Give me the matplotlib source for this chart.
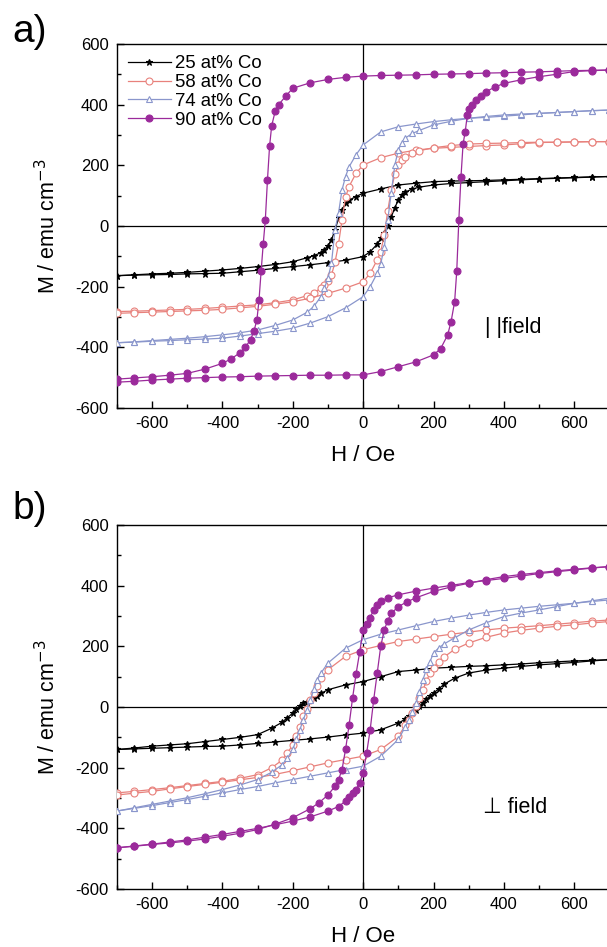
import matplotlib
matplotlib.use("Agg")
import matplotlib.pyplot as plt
from matplotlib.ticker import MultipleLocator

plt.rcParams['font.family'] = ['Liberation Sans', 'DejaVu Sans']
plt.rcParams['axes.unicode_minus'] = False

labels = ["25 at% Co", "58 at% Co", "74 at% Co", "90 at% Co"]

# ---------------- panel a (|| field) ----------------
# descending-branch field grids (ascending branch uses the negated grid)
Ha_90 = [700, 650, 600, 550, 500, 450, 400, 350, 300, 250, 200, 150, 100, 50, 0, -50, -100,
         -150, -200, -220, -240, -250, -260, -266, -272, -278, -284, -290, -296, -302, -310,
         -320, -335, -350, -375, -400, -450, -500, -550, -600, -650, -700]
Ma_90_dn = [514, 513, 512, 510, 508, 507, 505, 504, 502, 501, 500, 498, 497, 496, 494, 490,
            483, 472, 454, 428, 400, 378, 330, 262, 150, 20, -60, -150, -245, -310, -345,
            -375, -400, -418, -438, -453, -472, -486, -492, -497, -501, -505]
Ma_90_up = [-515, -512, -508, -505, -502, -500, -498, -497, -495, -494, -493, -492, -492, -491,
            -491, -480, -464, -448, -425, -405, -360, -315, -250, -150, 20, 160, 270, 310, 365,
            385, 400, 415, 430, 443, 458, 470, 482, 492, 500, 509, 512, 514]

Ha_lo = [700, 650, 600, 550, 500, 450, 400, 350, 300, 250, 200, 150, 100, 50, 0, -20, -40,
         -50, -60, -70, -80, -90, -100, -110, -120, -140, -160, -200, -250, -300, -350, -400,
         -450, -500, -550, -600, -650, -700]
Ma_74_dn = [382, 380, 377, 374, 371, 366, 362, 358, 355, 350, 344, 336, 327, 310, 267, 235,
            195, 163, 119, 42, -13, -123, -172, -205, -233, -265, -285, -310, -328, -343,
            -352, -359, -365, -370, -374, -378, -382, -385]
Ma_74_up = [-385, -383, -380, -378, -375, -373, -370, -363, -355, -347, -337, -320, -299, -270,
            -233, -200, -156, -125, -70, 20, 110, 200, 251, 275, 290, 305, 315, 333, 345, 355,
            361, 366, 369, 371, 374, 377, 380, 382]
Ma_58_dn = [278, 278, 277, 276, 275, 271, 267, 265, 262, 259, 256, 250, 240, 225, 201, 174,
            130, 95, 20, -60, -120, -162, -180, -195, -205, -220, -230, -244, -253, -260, -264,
            -268, -272, -275, -277, -279, -281, -282]
Ma_58_up = [-288, -286, -284, -282, -280, -278, -275, -270, -265, -258, -250, -238, -222, -205,
            -184, -156, -112, -85, -30, 50, 120, 170, 200, 218, 228, 240, 248, 258, 265, 270,
            272, 273, 275, 276, 276, 277, 278, 278]
Ma_25_dn = [163, 162, 160, 158, 156, 154, 152, 150, 149, 148, 146, 141, 135, 122, 108, 97, 85,
            75, 53, 25, -13, -46, -65, -79, -88, -98, -105, -118, -127, -134, -140, -145, -149,
            -153, -156, -158, -161, -164]
Ma_25_up = [-164, -162, -161, -160, -158, -157, -156, -151, -146, -140, -134, -128, -121, -113,
            -101, -85, -60, -41, -22, 0, 30, 60, 86, 102, 112, 122, 128, 135, 140, 143, 146,
            149, 152, 155, 157, 159, 161, 163]

# ---------------- panel b (perpendicular field) ----------------
Hb_90 = [700, 650, 600, 550, 500, 450, 400, 350, 300, 250, 200, 150, 100, 70, 50, 40, 30, 20,
         10, 0, -10, -20, -30, -40, -50, -60, -70, -80, -100, -125, -150, -200, -250, -300,
         -350, -400, -450, -500, -550, -600, -650, -700]
Mb_90_dn = [463, 458, 452, 446, 440, 432, 424, 417, 410, 401, 392, 382, 370, 360, 348, 335,
            320, 295, 275, 254, 180, 110, 30, -60, -140, -206, -240, -261, -290, -315, -335,
            -365, -386, -404, -416, -426, -435, -442, -448, -453, -459, -464]
Mb_90_up = [-464, -458, -452, -445, -438, -429, -420, -410, -400, -388, -376, -362, -343, -328,
            -310, -298, -285, -272, -250, -217, -151, -75, 24, 112, 200, 254, 285, 309, 331,
            347, 360, 381, 396, 408, 420, 430, 437, 443, 449, 454, 459, 463]

Hb_lo = [700, 650, 600, 550, 500, 450, 400, 350, 300, 250, 200, 150, 100, 50, 0, -50, -100,
         -120, -130, -140, -150, -160, -170, -180, -190, -200, -215, -230, -260, -300, -350,
         -400, -450, -500, -550, -600, -650, -700]
Mb_74_dn = [353, 348, 342, 337, 332, 326, 320, 312, 303, 293, 282, 268, 254, 240, 222, 194,
            145, 112, 90, 58, 24, -10, -42, -75, -107, -140, -168, -190, -215, -239, -257,
            -272, -286, -299, -310, -321, -332, -343]
Mb_74_up = [-343, -334, -325, -315, -305, -294, -283, -272, -262, -250, -239, -228, -217, -206,
            -195, -162, -107, -65, -42, -15, 13, 50, 90, 125, 150, 178, 195, 208, 228, 254,
            278, 298, 310, 320, 331, 342, 350, 359]
Mb_58_dn = [287, 283, 278, 273, 268, 264, 260, 254, 247, 240, 232, 224, 216, 203, 189, 167,
            123, 95, 68, 45, 24, -5, -31, -65, -97, -125, -151, -175, -200, -223, -235, -245,
            -252, -259, -266, -272, -278, -283]
Mb_58_up = [-290, -284, -278, -270, -262, -255, -248, -240, -232, -222, -210, -197, -184, -173,
            -162, -140, -97, -60, -42, -20, 2, 30, 57, 85, 112, 130, 150, 165, 190, 211, 230,
            244, 253, 260, 266, 271, 277, 282]
Mb_25_dn = [156, 154, 152, 149, 146, 142, 139, 136, 134, 131, 128, 122, 117, 100, 84, 73, 57,
            45, 35, 30, 24, 18, 13, 3, -8, -20, -35, -50, -70, -91, -100, -107, -114, -121,
            -125, -129, -135, -140]
Mb_25_up = [-140, -138, -136, -134, -132, -130, -129, -125, -120, -115, -110, -105, -99, -92,
            -86, -75, -53, -40, -31, -20, -9, 2, 13, 25, 35, 46, 60, 75, 95, 112, 122, 128, 134,
            139, 143, 147, 152, 156]

colors = ["#000000", "#e8817c", "#8a96cc", "#9b2a9b"]
markers = ["*", "o", "^", "o"]
mfc = ["#000000", "white", "white", "#9b2a9b"]
msz = [5, 5, 5, 5]

fig = plt.figure(figsize=(6.07, 9.47), dpi=100)
ax_a = fig.add_axes([0.1925, 0.5692, 0.8115, 0.3844])
ax_b = fig.add_axes([0.1925, 0.0612, 0.8115, 0.3844])

panel_a = [(Ha_lo, Ma_25_dn, Ma_25_up), (Ha_lo, Ma_58_dn, Ma_58_up),
           (Ha_lo, Ma_74_dn, Ma_74_up), (Ha_90, Ma_90_dn, Ma_90_up)]
panel_b = [(Hb_lo, Mb_25_dn, Mb_25_up), (Hb_lo, Mb_58_dn, Mb_58_up),
           (Hb_lo, Mb_74_dn, Mb_74_up), (Hb_90, Mb_90_dn, Mb_90_up)]

for ax, data in [(ax_a, panel_a), (ax_b, panel_b)]:
    ax.axhline(0, color="black", lw=0.9, zorder=1)
    ax.axvline(0, color="black", lw=0.9, zorder=1)
    for i, (H, Md, Mu) in enumerate(data):
        Hu = [-h for h in H]
        kw = dict(color=colors[i], marker=markers[i], markerfacecolor=mfc[i],
                  markeredgecolor=colors[i], markersize=msz[i], lw=0.9,
                  markeredgewidth=0.8, zorder=2 + i)
        ax.plot(H, Md, label=labels[i], **kw)
        ax.plot(Hu, Mu, **kw)
    ax.set_xlim(-700, 700)
    ax.set_ylim(-600, 600)
    ax.xaxis.set_major_locator(MultipleLocator(200))
    ax.xaxis.set_minor_locator(MultipleLocator(100))
    ax.yaxis.set_major_locator(MultipleLocator(200))
    ax.yaxis.set_minor_locator(MultipleLocator(100))
    ax.tick_params(which="both", direction="in", top=False, right=False, labelsize=12, pad=6)
    ax.tick_params(which="major", length=5, width=1)
    ax.tick_params(which="minor", length=3, width=1)
    for s in ax.spines.values():
        s.set_linewidth(1.0)
    ax.set_xlabel("H / Oe", fontsize=16, labelpad=10)
    ax.set_ylabel("M / emu cm$^{-3}$", fontsize=15.5, labelpad=11)

ax_a.legend(loc="upper left", bbox_to_anchor=(0.0, 1.0), frameon=False, fontsize=13.4,
            handlelength=2.3, handletextpad=0.2, labelspacing=0.1, borderaxespad=0.2,
            borderpad=0.4)

ax_a.text(345, -336, "| |field", fontsize=15.5, va="center", ha="left")
ax_b.text(340, -332, "\u22a5 field", fontsize=15.5, va="center", ha="left")

fig.text(0.02, 0.966, "a)", fontsize=28, va="center", ha="left")
fig.text(0.02, 0.463, "b)", fontsize=28, va="center", ha="left")

fig.savefig("out.png", dpi=100)
